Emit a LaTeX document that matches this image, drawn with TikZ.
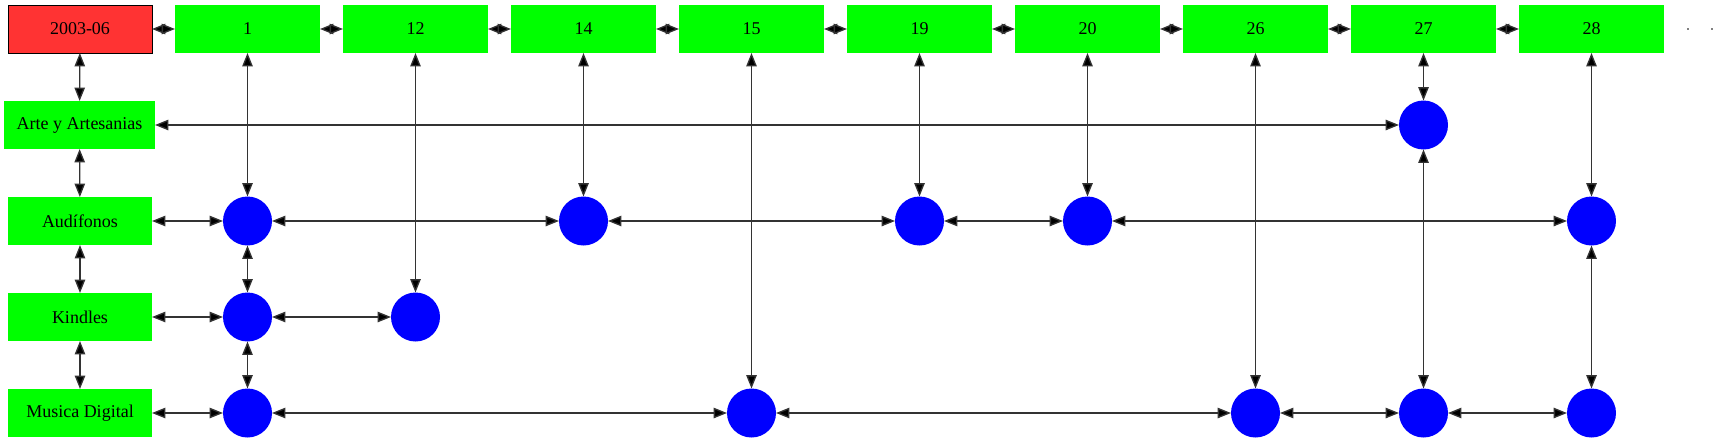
\documentclass[tikz,border=0pt]{standalone}
\usepackage{fontspec}
\setmainfont{Liberation Serif}
\usetikzlibrary{arrows.meta}
\definecolor{redbox}{HTML}{FF3333}
\definecolor{greenbox}{HTML}{00FF00}
\definecolor{bluedot}{HTML}{0000FF}
\begin{document}
\begin{tikzpicture}[x=0.75pt,y=-0.75pt,
  every node/.style={font=\fontsize{13.5}{16}\selectfont, inner sep=0pt, outer sep=0pt},
  datebox/.style={draw=black, fill=redbox, line width=0.75pt, minimum width=108pt, minimum height=36pt},
  catbox/.style={fill=greenbox, minimum width=108.75pt, minimum height=36pt},
  leftbox/.style={fill=greenbox, minimum width=108pt, minimum height=36pt},
  bdot/.style={circle, fill=bluedot, minimum size=36.75pt},
  tinydot/.style={fill=gray, minimum width=1.5pt, minimum height=0.9pt},
  link/.style={draw=black!80, line width=1pt,
    {Triangle[length=10pt,width=7.8pt,fill=black]}-{Triangle[length=10pt,width=7.8pt,fill=black]}}]
\useasboundingbox (0,0) rectangle (1717,443);

% header row
\node[datebox] (d) at (80,29) {2003-06};
\foreach \n/\x in {1/247.5,12/415.5,14/583.5,15/751.5,19/919.5,20/1087.5,26/1255.5,27/1423.5,28/1591.5}
  \node[catbox] (t\n) at (\x,29) {\n};
\node[tinydot] (p1) at (1688,29) {};
\node[tinydot] (p2) at (1712,29) {};

% left column
\node[leftbox, minimum width=113.25pt] (a) at (79.5,125) {Arte y Artesanias};
\node[leftbox] (au) at (80,221) {Audífonos};
\node[leftbox] (k) at (80,317) {Kindles};
\node[leftbox] (m) at (80,413) {Musica Digital};

% dots
\node[bdot] (a27) at (1423.5,125) {};
\foreach \n/\x in {1/247.5,14/583.5,19/919.5,20/1087.5,28/1591.5}
  \node[bdot] (au\n) at (\x,221) {};
\foreach \n/\x in {1/247.5,12/415.5}
  \node[bdot] (k\n) at (\x,317) {};
\foreach \n/\x in {1/247.5,15/751.5,26/1255.5,27/1423.5,28/1591.5}
  \node[bdot] (m\n) at (\x,413) {};

% header chain
\foreach \u/\v in {d/t1,t1/t12,t12/t14,t14/t15,t15/t19,t19/t20,t20/t26,t26/t27,t27/t28}
  \draw[link] (\u) -- (\v);
% left chain
\foreach \u/\v in {d/a,a/au,au/k,k/m}
  \draw[link] (\u) -- (\v);
% columns
\foreach \u/\v in {t1/au1,au1/k1,k1/m1,t12/k12,t14/au14,t15/m15,t19/au19,t20/au20,t26/m26,t27/a27,a27/m27,t28/au28,au28/m28}
  \draw[link] (\u) -- (\v);
% rows
\foreach \u/\v in {a/a27,au/au1,au1/au14,au14/au19,au19/au20,au20/au28,k/k1,k1/k12,m/m1,m1/m15,m15/m26,m26/m27,m27/m28}
  \draw[link] (\u) -- (\v);
\end{tikzpicture}
\end{document}
